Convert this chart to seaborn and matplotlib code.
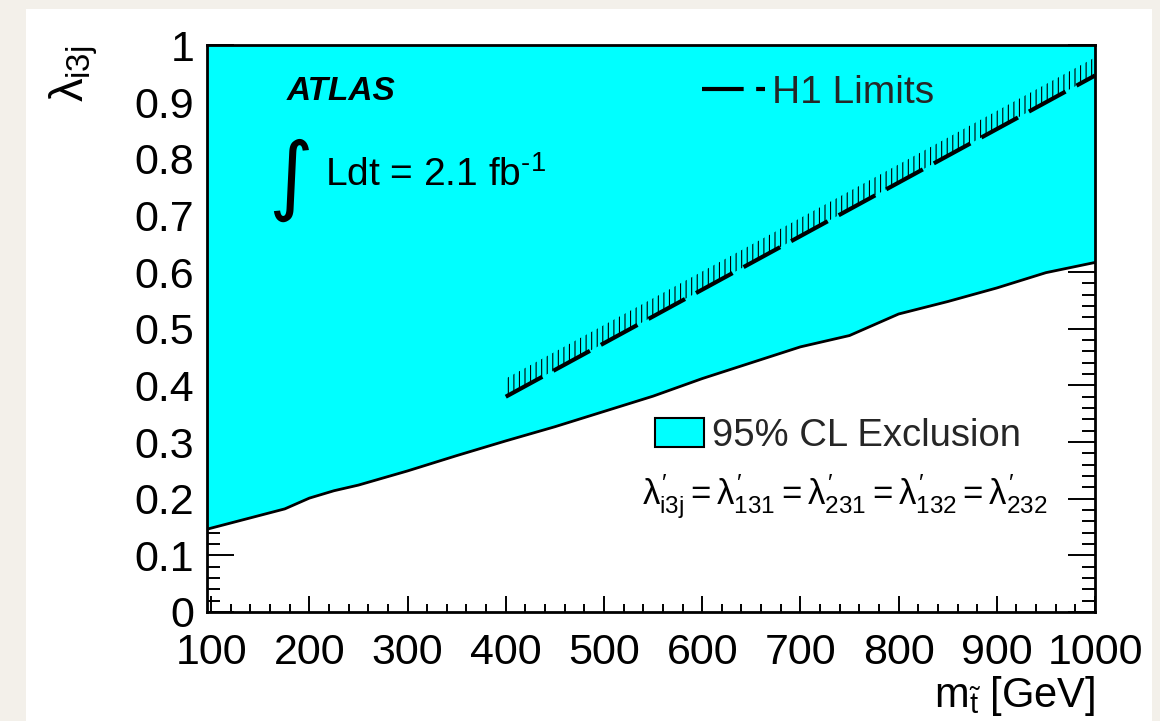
import numpy as np
import matplotlib
matplotlib.use("Agg")
import matplotlib.pyplot as plt
from matplotlib.lines import Line2D
from matplotlib.patches import Patch, Rectangle
from matplotlib.ticker import MultipleLocator, FixedLocator, FixedFormatter
import seaborn as sns

# Observed 95% CL lower edge of the excluded region: stop mass [GeV] vs lambda'_i3j
stop_mass = [95.5, 175, 200, 225, 250, 300, 350, 400, 450, 500, 550, 600,
             650, 700, 750, 800, 850, 900, 950, 1000]
lambda_limit = [0.146, 0.182, 0.201, 0.214, 0.224, 0.249, 0.276, 0.302, 0.327,
                0.354, 0.381, 0.412, 0.440, 0.468, 0.488, 0.526, 0.548, 0.572,
                0.599, 0.617]

# H1 limit
h1_mass = [400, 1000]
h1_lambda = [0.380, 0.947]

x_ticks = [100, 200, 300, 400, 500, 600, 700, 800, 900, 1000]
x_tick_labels = ["100", "200", "300", "400", "500", "600", "700", "800", "900", "1000"]
y_ticks = [0.0, 0.1, 0.2, 0.3, 0.4, 0.5, 0.6, 0.7, 0.8, 0.9, 1.0]
y_tick_labels = ["0", "0.1", "0.2", "0.3", "0.4", "0.5", "0.6", "0.7", "0.8", "0.9", "1"]

H1_DASH = (0, (10, 3))

sns.set_theme(style="ticks")
plt.rcParams["font.family"] = ["Liberation Sans", "DejaVu Sans"]
plt.rcParams["mathtext.fontset"] = "custom"
plt.rcParams["mathtext.rm"] = "Liberation Sans"
plt.rcParams["mathtext.it"] = "Liberation Sans"
plt.rcParams["mathtext.bf"] = "Liberation Sans:bold"
plt.rcParams["mathtext.sf"] = "Liberation Sans"
plt.rcParams["hatch.linewidth"] = 0.8
plt.rcParams["hatch.color"] = "black"

fig = plt.figure(figsize=(11.6, 7.21), dpi=100)
fig.patch.set_facecolor("#f3f0ea")
fig.add_artist(Rectangle((26 / 1160, 0), (1152 - 26) / 1160, (721 - 9) / 721,
                         transform=fig.transFigure, facecolor="white",
                         edgecolor="none", zorder=0))
ax = fig.add_axes([0.1782, 0.1512, 0.7658, 0.7857])
ax.set_facecolor("white")

# excluded region
ax.fill_between(stop_mass, lambda_limit, 1.0, color="#00ffff", lw=0, zorder=1)
sns.lineplot(x=stop_mass, y=lambda_limit, ax=ax, color="black", lw=2.0,
             sort=False, estimator=None, zorder=3)

# H1 limit with hatched side
h1_low = np.array(h1_lambda)
ax.fill_between(h1_mass, h1_low, h1_low + 0.032, facecolor="none",
                edgecolor="black", hatch="|||", lw=0, zorder=2)
sns.lineplot(x=h1_mass, y=h1_lambda, ax=ax, color="black", lw=3.0,
             sort=False, estimator=None, zorder=3)
ax.get_lines()[-1].set_linestyle(H1_DASH)

ax.set_xlim(95.5, 1000)
ax.set_ylim(0, 1)

ax.xaxis.set_major_locator(FixedLocator(x_ticks))
ax.xaxis.set_major_formatter(FixedFormatter(x_tick_labels))
ax.yaxis.set_major_locator(FixedLocator(y_ticks))
ax.yaxis.set_major_formatter(FixedFormatter(y_tick_labels))
ax.xaxis.set_minor_locator(MultipleLocator(20))
ax.yaxis.set_minor_locator(MultipleLocator(0.02))

ax.tick_params(which="both", direction="in", top=True, right=True,
               color="black", width=1.4, labelsize=31, labelcolor="black")
ax.tick_params(axis="x", which="major", length=11.5, pad=15)
ax.tick_params(axis="x", which="minor", length=5.8)
ax.tick_params(axis="y", which="major", length=19.4, pad=9)
ax.tick_params(axis="y", which="minor", length=9.4)
for side, spine in ax.spines.items():
    spine.set_visible(True)
    spine.set_color("black")
    spine.set_linewidth(2.0)
    spine.set_zorder(5)

ax.set_xlabel(r"m$_{\tilde{t}}$ [GeV]", fontsize=30, loc="right", color="black")
ax.xaxis.set_label_coords(1.0, -0.109)
ax.set_ylabel(r"$\lambda_{i3j}$", fontsize=34, loc="top", color="black")
ax.yaxis.set_label_coords(-0.12, 1.0)

ax.text(0.0904, 0.918, "ATLAS", transform=ax.transAxes, fontsize=24,
        fontweight="bold", fontstyle="italic", va="center", ha="left", color="black")
ax.text(0.094, 0.762, "\u222b", transform=ax.transAxes, fontsize=62,
        family="DejaVu Sans", va="center", ha="center", color="black")
ax.text(0.133, 0.771, r"Ldt = 2.1 fb$^{\text{-1}}$", transform=ax.transAxes,
        fontsize=28, va="center", ha="left", color="black")

leg1 = ax.legend(handles=[Line2D([], [], color="black", lw=3.0, linestyle=H1_DASH)],
                 labels=["H1 Limits"], loc="center left",
                 bbox_to_anchor=(0.557, 0.916), frameon=False, fontsize=28,
                 borderaxespad=0, borderpad=0, handlelength=1.64,
                 handletextpad=0.16)
ax.add_artist(leg1)
ax.legend(handles=[Patch(facecolor="#00ffff", edgecolor="black", lw=1.5)],
          labels=["95% CL Exclusion"], loc="center left",
          bbox_to_anchor=(0.5047, 0.311), frameon=False, fontsize=27.5,
          borderaxespad=0, borderpad=0, handlelength=1.28, handleheight=0.82,
          handletextpad=0.2)

ax.text(0.7186, 0.203,
        r"$\lambda^{\prime}_{i3j} = \lambda^{\prime}_{131} = \lambda^{\prime}_{231}"
        r" = \lambda^{\prime}_{132} = \lambda^{\prime}_{232}$",
        transform=ax.transAxes, fontsize=25, va="center", ha="center", color="black")

fig.savefig("out.png", dpi=100, facecolor=fig.get_facecolor())
